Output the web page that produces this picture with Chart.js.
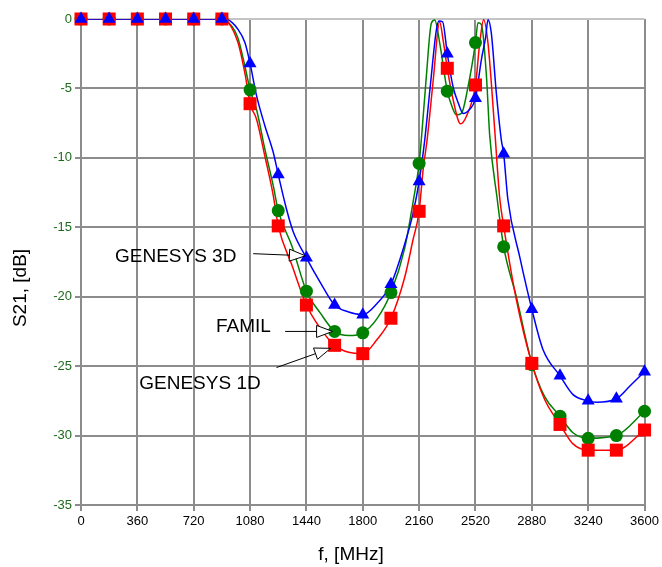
<!DOCTYPE html>
<html>
<head>
<meta charset="utf-8">
<script src="https://cdn.jsdelivr.net/npm/chart.js@4.4.1/dist/chart.umd.min.js"></script>
<style>
  html, body { margin: 0; padding: 0; background: #ffffff; }
  canvas { display: block; }
</style>
</head>
<body>
<canvas id="s21Chart" width="662" height="567"></canvas>
<script>
// Frequencies where the symbols sit, MHz
const markerFreq = [0, 180, 360, 540, 720, 900, 1080, 1260, 1440, 1620, 1800, 1980, 2160, 2340, 2520, 2700, 2880, 3060, 3240, 3420, 3600];

// S21 at the symbols, dB
const g3dMarks = [0, 0, 0, 0, 0, 0, -3.2, -11.2, -17.2, -20.6, -21.3, -19.1, -11.7, -2.5, -5.7, -9.7, -20.9, -25.7, -27.5, -27.35, -25.4];
const familMarks = [0, 0, 0, 0, 0, 0, -5.1, -13.8, -19.6, -22.5, -22.6, -19.7, -10.4, -5.2, -1.7, -16.4, -24.9, -28.6, -30.2, -30.0, -28.25];
const g1dMarks = [0, 0, 0, 0, 0, 0, -6.1, -14.9, -20.6, -23.5, -24.1, -21.55, -13.85, -3.55, -4.75, -14.9, -24.8, -29.2, -31.05, -31.05, -29.6];

// Finer sweep used for the curves
const g3dLineFreq = [0, 900, 938, 1000, 1047, 1080, 1121, 1175, 1228, 1260, 1313, 1355, 1440, 1530, 1620, 1710, 1800, 1890, 1980, 2068, 2121, 2160, 2196, 2232, 2270, 2287, 2310, 2340, 2377, 2410, 2441, 2483, 2520, 2558, 2585, 2600, 2621, 2653, 2685, 2700, 2727, 2802, 2880, 2951, 3060, 3143, 3240, 3292, 3420, 3505, 3600];
const g3dLineDb = [0, 0, -0.05, -0.7, -1.7, -3.2, -5.5, -7.7, -9.6, -11.2, -13.7, -15.3, -17.2, -19.0, -20.6, -21.1, -21.3, -20.5, -19.1, -16.2, -14.0, -11.7, -8.7, -4.75, -0.8, -0.15, -0.2, -2.5, -4.9, -6.05, -6.8, -6.5, -5.7, -2.9, -1.3, -0.05, -1.0, -5.3, -8.7, -9.7, -13.0, -17.1, -20.9, -23.8, -25.7, -27.05, -27.5, -27.6, -27.35, -26.45, -25.4];

const familLineFreq = [0, 900, 920, 1000, 1047, 1080, 1121, 1175, 1228, 1260, 1349, 1440, 1530, 1620, 1710, 1800, 1890, 1980, 2068, 2121, 2160, 2174, 2206, 2238, 2260, 2291, 2340, 2370, 2398, 2430, 2472, 2520, 2536, 2558, 2590, 2611, 2657, 2700, 2781, 2880, 2962, 3060, 3143, 3240, 3420, 3600];
const familLineDb = [0, 0, -0.05, -1.3, -3.4, -5.1, -6.5, -9.4, -12.0, -13.8, -16.4, -19.6, -21.2, -22.5, -22.8, -22.6, -21.6, -19.7, -16.5, -13.2, -10.4, -8.7, -4.15, -0.3, -0.07, -1.7, -5.2, -6.3, -6.9, -6.8, -4.9, -1.7, -0.27, -0.4, -4.1, -8.4, -12.8, -16.4, -20.0, -24.8, -27.2, -28.6, -29.8, -30.2, -30.0, -28.25];

const g1dLineFreq = [0, 900, 1000, 1047, 1080, 1121, 1175, 1228, 1260, 1350, 1440, 1530, 1620, 1710, 1800, 1890, 1980, 2068, 2121, 2160, 2185, 2211, 2251, 2291, 2313, 2340, 2377, 2425, 2462, 2520, 2547, 2572, 2600, 2643, 2674, 2700, 2781, 2880, 2962, 3060, 3143, 3240, 3420, 3600];
const g1dLineDb = [0, 0, -1.6, -3.9, -6.1, -7.2, -9.9, -12.7, -14.9, -17.8, -20.6, -22.3, -23.5, -24.0, -24.1, -23.1, -21.55, -18.6, -15.9, -13.85, -10.9, -8.7, -4.3, -0.2, -1.5, -3.55, -5.8, -7.55, -7.0, -4.75, -1.75, -0.05, -1.75, -8.0, -12.8, -14.9, -20.2, -24.8, -27.4, -29.2, -30.6, -31.05, -31.05, -29.6];

// Axis ticks
const freqTicks = [0, 360, 720, 1080, 1440, 1800, 2160, 2520, 2880, 3240, 3600];
const dbTicks = [0, -5, -10, -15, -20, -25, -30, -35];

const BLUE = '#0000ff';
const GREEN = '#008000';
const RED = '#ff0000';
const FONT = '"Liberation Sans", Arial, Helvetica, sans-serif';

const toPoints = (xs, ys) => xs.map((f, i) => ({ x: f, y: ys[i] }));

// Callout texts with arrows pointing at one symbol of a series
const callouts = [
    { text: 'GENESYS 3D', at: [217, -17.15], tail: [1100, -16.9], marks: g3dMarks, index: 8, nudge: [-1, -2] },
    { text: 'FAMIL', at: [862, -22.2], tail: [1304, -22.5], marks: familMarks, index: 9, nudge: [-2, 0] },
    { text: 'GENESYS 1D', at: [372, -26.3], tail: [1249, -25.1], marks: g1dMarks, index: 9, nudge: [-4, 3] }
];

const calloutPlugin = {
    id: 'callouts',
    afterDatasetsDraw(chart) {
        const { ctx, scales: { x, y } } = chart;
        ctx.save();
        ctx.font = '19px ' + FONT;
        ctx.textBaseline = 'middle';
        ctx.textAlign = 'left';
        ctx.strokeStyle = '#000';
        ctx.lineWidth = 1;
        callouts.forEach(c => {
            ctx.fillStyle = '#000';
            ctx.fillText(c.text, x.getPixelForValue(c.at[0]), y.getPixelForValue(c.at[1]));

            const sx = x.getPixelForValue(c.tail[0]);
            const sy = y.getPixelForValue(c.tail[1]);
            const tx = x.getPixelForValue(markerFreq[c.index]) + c.nudge[0];
            const ty = y.getPixelForValue(c.marks[c.index]) + c.nudge[1];
            const ang = Math.atan2(ty - sy, tx - sx);
            const headLen = 16, headHalf = 6;
            const bx = tx - headLen * Math.cos(ang);
            const by = ty - headLen * Math.sin(ang);

            ctx.beginPath();
            ctx.moveTo(sx, sy);
            ctx.lineTo(bx, by);
            ctx.stroke();

            // open arrow head
            ctx.beginPath();
            ctx.moveTo(tx, ty);
            ctx.lineTo(bx + headHalf * Math.sin(ang), by - headHalf * Math.cos(ang));
            ctx.lineTo(bx - headHalf * Math.sin(ang), by + headHalf * Math.cos(ang));
            ctx.closePath();
            ctx.fillStyle = '#fff';
            ctx.fill();
            ctx.stroke();
        });
        ctx.restore();
    },
    afterDraw(chart) {
        const { ctx } = chart;
        ctx.save();
        ctx.fillStyle = '#000';
        ctx.font = '19px ' + FONT;
        ctx.textAlign = 'center';
        ctx.textBaseline = 'middle';
        ctx.fillText('f, [MHz]', 351, 555);
        ctx.translate(21, 288);
        ctx.rotate(-Math.PI / 2);
        ctx.fillText('S21, [dB]', 0, 0);
        ctx.restore();
    }
};

const lineSet = (label, xs, ys, color, order) => ({
    label,
    data: toPoints(xs, ys),
    showLine: true,
    borderColor: color,
    borderWidth: 1.5,
    pointRadius: 0,
    fill: false,
    cubicInterpolationMode: 'monotone',
    order
});

const markSet = (label, ys, color, style, radius, order) => ({
    label,
    data: toPoints(markerFreq, ys),
    showLine: false,
    clip: false,
    pointStyle: style,
    pointRadius: radius,
    pointBackgroundColor: color,
    pointBorderColor: color,
    pointBorderWidth: 0,
    order
});

new Chart(document.getElementById('s21Chart').getContext('2d'), {
    type: 'scatter',
    data: {
        datasets: [
            markSet('GENESYS 3D', g3dMarks, BLUE, 'triangle', 7.5, 1),
            markSet('GENESYS 1D', g1dMarks, RED, 'rect', 9.2, 2),
            markSet('FAMIL', familMarks, GREEN, 'circle', 6.5, 3),
            lineSet('GENESYS 3D line', g3dLineFreq, g3dLineDb, BLUE, 4),
            lineSet('GENESYS 1D line', g1dLineFreq, g1dLineDb, RED, 5),
            lineSet('FAMIL line', familLineFreq, familLineDb, GREEN, 6)
        ]
    },
    options: {
        responsive: false,
        animation: false,
        devicePixelRatio: 1,
        layout: { padding: { top: 19, right: 17, left: 0, bottom: 0 } },
        plugins: {
            legend: { display: false },
            tooltip: { enabled: false }
        },
        scales: {
            x: {
                type: 'linear',
                min: 0,
                max: 3600,
                afterFit: s => { s.height = 62; },
                afterBuildTicks: s => { s.ticks = freqTicks.map(v => ({ value: v })); },
                grid: { color: '#8c8c8c', lineWidth: 2, tickLength: 6 },
                border: { color: '#8c8c8c', width: 2 },
                ticks: {
                    color: '#000',
                    padding: 3,
                    maxRotation: 0,
                    autoSkip: false,
                    font: { size: 13, family: FONT },
                    callback: v => String(v)
                }
            },
            y: {
                type: 'linear',
                min: -35,
                max: 0,
                afterFit: s => { s.width = 81; },
                afterBuildTicks: s => { s.ticks = dbTicks.map(v => ({ value: v })); },
                grid: {
                    color: c => (c.tick && c.tick.value === 0 ? '#c4c4c4' : '#8c8c8c'),
                    lineWidth: 2,
                    tickLength: 6
                },
                border: { color: '#8c8c8c', width: 2 },
                ticks: {
                    color: '#1e6b1e',
                    padding: 3,
                    autoSkip: false,
                    font: { size: 13, family: FONT },
                    callback: v => String(v)
                }
            }
        }
    },
    plugins: [calloutPlugin]
});
</script>
</body>
</html>
